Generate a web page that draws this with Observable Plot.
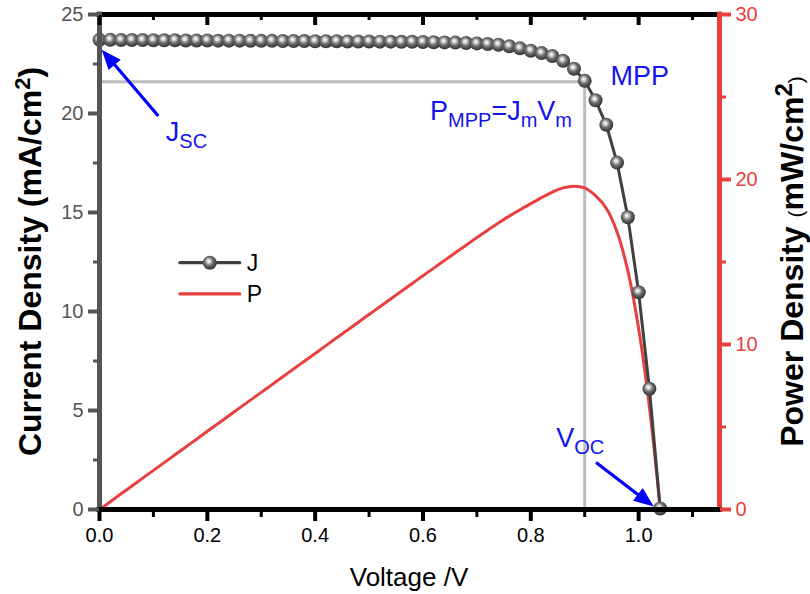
<!DOCTYPE html>
<html><head><meta charset="utf-8">
<script src="https://cdn.jsdelivr.net/npm/d3@7"></script>
<script src="https://cdn.jsdelivr.net/npm/@observablehq/plot@0.6"></script>
<style>body{margin:0;background:#fff}</style>
</head><body><div id="chart"></div>
<script>
// ---- data ----
const voltage = [0.00,0.02,0.04,0.06,0.08,0.10,0.12,0.14,0.16,0.18,0.20,0.22,0.24,0.26,0.28,0.30,0.32,0.34,0.36,0.38,0.40,0.42,0.44,0.46,0.48,0.50,0.52,0.54,0.56,0.58,0.60,0.62,0.64,0.66,0.68,0.70,0.72,0.74,0.76,0.78,0.80,0.82,0.84,0.86,0.88,0.90,0.92,0.94,0.96,0.98,1.00,1.02,1.04];
const currentDensity = [23.72,23.72,23.71,23.71,23.71,23.70,23.70,23.70,23.69,23.69,23.69,23.68,23.68,23.68,23.67,23.67,23.67,23.66,23.66,23.66,23.65,23.65,23.65,23.64,23.64,23.64,23.63,23.63,23.62,23.62,23.61,23.60,23.59,23.58,23.56,23.54,23.51,23.47,23.40,23.29,23.17,23.05,22.90,22.66,22.26,21.65,20.67,19.43,17.52,14.76,10.97,6.10,0.05];
const powerDensity = [0,0.47,0.95,1.42,1.90,2.37,2.84,3.32,3.79,4.26,4.74,5.21,5.68,6.16,6.63,7.10,7.57,8.04,8.52,8.99,9.46,9.93,10.41,10.87,11.35,11.82,12.29,12.76,13.23,13.70,14.17,14.63,15.10,15.56,16.02,16.48,16.93,17.37,17.78,18.17,18.54,18.90,19.24,19.49,19.59,19.49,19.02,18.26,16.82,14.46,10.97,6.22,0.05];
const xTicks = [0,0.2,0.4,0.6,0.8,1.0];
const xMinor = [0.1,0.3,0.5,0.7,0.9,1.1];
const jTicks = [0,5,10,15,20,25];
const jMinor = [2.5,7.5,12.5,17.5,22.5];
const pTicks = [0,10,20,30];
const pMinor = [5,15,25];
const xDomain = [0,1.15];
const jDomain = [0,25];
const pDomain = [0,30];
const mpp = {V:0.9, J:21.6};
const jscArrow = {x1:0.11, y1:19.85, x2:0.005, y2:23.2};
const vocArrow = {x1:0.922, y1:2.35, x2:1.029, y2:0.12};
const labelJsc = {x:0.124, y:18.59};
const labelMpp = {x:0.9486, y:21.41};
const labelPmpp = {x:0.614, y:19.65};
const labelVoc = {x:0.848, y:3.13};
const legendItems = [{name:"J", x1:0.15, x2:0.261, y:12.44}, {name:"P", x1:0.15, x2:0.261, y:10.86}];

const pToJ = jDomain[1] / pDomain[1];
const data = voltage.map((v,i) => ({V:v, J:currentDensity[i], P:powerDensity[i]}));

const RED = "#e8403f", GRAY = "#555555", DARK = "#404040", BLUE = "#1414ee";
const FONT = "'Liberation Sans', Arial, sans-serif";
const NS = "http://www.w3.org/2000/svg";
function el(tag, attrs, parent) {
  const e = document.createElementNS(NS, tag);
  for (const k in attrs) e.setAttribute(k, attrs[k]);
  if (parent) parent.appendChild(e);
  return e;
}
function rich(parent, attrs, parts) {
  const t = el("text", attrs, parent);
  for (const p of parts) { const s = el("tspan", p.a || {}, t); s.textContent = p.t; }
  return t;
}
function arrow(g, x1, y1, x2, y2, color, hl, hw) {
  const dx = x2-x1, dy = y2-y1, L = Math.hypot(dx,dy), ux = dx/L, uy = dy/L;
  const bx = x2-ux*hl, by = y2-uy*hl;
  el("line", {x1, y1, x2: bx+ux*2, y2: by+uy*2, stroke: color, "stroke-width": 3.2}, g);
  el("polygon", {points: `${x2},${y2} ${bx-uy*hw},${by+ux*hw} ${bx+uy*hw},${by-ux*hw}`, fill: color}, g);
}

const defs = () => {
  const d = el("defs", {});
  const rg = el("radialGradient", {id: "ball", cx: "0.45", cy: "0.42", r: "0.55", fx: "0.42", fy: "0.38"}, d);
  [["0%","#ffffff"],["22%","#d8d8d8"],["55%","#707070"],["100%","#353535"]].forEach(([o,c]) => el("stop", {offset: o, "stop-color": c}, rg));
  return d;
};

const annotations = (index, scales, values, dim) => {
  const x = scales.x, y = scales.y;
  const g = el("g", {"font-family": FONT, "text-anchor": "start"});
  // arrows
  arrow(g, x(jscArrow.x1), y(jscArrow.y1), x(jscArrow.x2), y(jscArrow.y2), "#0000ff", 20, 8);
  arrow(g, x(vocArrow.x1), y(vocArrow.y1), x(vocArrow.x2), y(vocArrow.y2), "#0000ff", 20, 8);
  const big = 27, sub = 20, sh = 7;
  rich(g, {x: x(labelJsc.x), y: y(labelJsc.y), fill: BLUE, "font-size": big}, [
    {t: "J"}, {t: "SC", a: {dy: sh, "font-size": sub}}]);
  rich(g, {x: x(labelMpp.x), y: y(labelMpp.y), fill: BLUE, "font-size": big}, [{t: "MPP"}]);
  rich(g, {x: x(labelPmpp.x), y: y(labelPmpp.y), fill: BLUE, "font-size": big}, [
    {t: "P"}, {t: "MPP", a: {dy: sh, "font-size": sub}}, {t: "=J", a: {dy: -sh}},
    {t: "m", a: {dy: sh, "font-size": sub}}, {t: "V", a: {dy: -sh}}, {t: "m", a: {dy: sh, "font-size": sub}}]);
  rich(g, {x: x(labelVoc.x), y: y(labelVoc.y), fill: BLUE, "font-size": big}, [
    {t: "V"}, {t: "OC", a: {dy: sh, "font-size": sub}}]);
  // legend
  legendItems.forEach((it, i) => {
    const yy = y(it.y), xa = x(it.x1), xb = x(it.x2);
    el("line", {x1: xa, x2: xb, y1: yy, y2: yy, stroke: i === 0 ? DARK : RED, "stroke-width": 3.2, "stroke-linecap": "round"}, g);
    if (i === 0) el("circle", {cx: (xa+xb)/2, cy: yy, r: 7, fill: "url(#ball)"}, g);
    rich(g, {x: xb + 7, y: yy + 8.5, fill: "#000", "font-size": 23}, [{t: it.name}]);
  });
  // axis titles
  const L = dim.marginLeft, R = dim.width - dim.marginRight, T = dim.marginTop, B = dim.height - dim.marginBottom;
  const cy = (T + B) / 2;
  rich(g, {transform: `translate(${L - 58},${cy}) rotate(-90)`, "text-anchor": "middle", "font-size": 32, "font-weight": "bold", fill: "#000"}, [
    {t: "Current Density (mA/cm"}, {t: "2", a: {dy: -11, "font-size": 22}}, {t: ")", a: {dy: 11}}]);
  rich(g, {transform: `translate(${R + 84},${cy}) rotate(-90)`, "text-anchor": "middle", "font-size": 32, "font-weight": "bold", fill: "#000"}, [
    {t: "Power Density "}, {t: "(", a: {"font-size": 21, "font-weight": "normal"}}, {t: "mW/cm"},
    {t: "2", a: {dy: -11, "font-size": 24}}, {t: ")", a: {dy: 11, "font-size": 21, "font-weight": "normal"}}]);
  rich(g, {x: (L + R) / 2, y: B + 77, "text-anchor": "middle", "font-size": 26, fill: "#000"}, [{t: "Voltage /V"}]);
  return g;
};

const tickOpts = {fontSize: 20, strokeWidth: 4, label: null};
const chart = Plot.plot({
  width: 810, height: 594,
  marginTop: 14, marginRight: 91, marginBottom: 85, marginLeft: 99,
  style: {fontFamily: FONT, background: "#fff", overflow: "visible"},
  x: {domain: xDomain},
  y: {domain: jDomain},
  marks: [
    defs,
    Plot.ruleY([mpp.J], {x1: 0, x2: mpp.V, stroke: "#bdbdbd", strokeWidth: 3}),
    Plot.ruleX([mpp.V], {y1: 0, y2: mpp.J, stroke: "#bdbdbd", strokeWidth: 3}),
    Plot.line(data, {x: "V", y: d => d.P * pToJ, stroke: RED, strokeWidth: 3, curve: "catmull-rom"}),
    Plot.line(data, {x: "V", y: "J", stroke: DARK, strokeWidth: 3}),
    Plot.dot(data, {x: "V", y: "J", r: 7, fill: "url(#ball)"}),
    // axis lines
    Plot.ruleY([jDomain[1]], {stroke: "#000", strokeWidth: 5, strokeLinecap: "square"}),
    Plot.ruleX([xDomain[1]], {stroke: RED, strokeWidth: 5, strokeLinecap: "square"}),
    Plot.ruleX([xDomain[0]], {stroke: GRAY, strokeWidth: 5, strokeLinecap: "square"}),
    Plot.ruleY([jDomain[0]], {stroke: "#000", strokeWidth: 5, strokeLinecap: "square"}),
    // ticks
    Plot.axisX({...tickOpts, anchor: "bottom", ticks: xTicks, tickSize: 12, tickPadding: 6, tickFormat: d3.format(".1f"), stroke: "#000", fill: "#000"}),
    Plot.axisX({...tickOpts, anchor: "bottom", ticks: xMinor, tickSize: 8, strokeWidth: 3, tickFormat: () => "", stroke: "#000"}),
    Plot.axisX({...tickOpts, anchor: "top", ticks: xTicks, tickSize: 10, dy: 10, tickFormat: () => "", stroke: "#000"}),
    Plot.axisX({...tickOpts, anchor: "top", ticks: xMinor, tickSize: 5, dy: 5, strokeWidth: 3, tickFormat: () => "", stroke: "#000"}),
    Plot.axisY({...tickOpts, anchor: "left", ticks: jTicks, tickSize: 11, tickPadding: 5, stroke: GRAY, fill: GRAY}),
    Plot.axisY({...tickOpts, anchor: "left", ticks: jMinor, tickSize: 6, strokeWidth: 3, tickFormat: () => "", stroke: GRAY}),
    Plot.axisY({...tickOpts, anchor: "right", ticks: pTicks.map(p => p * pToJ), tickFormat: d => Math.round(d / pToJ), tickSize: 11, tickPadding: 5, stroke: RED, fill: RED}),
    Plot.axisY({...tickOpts, anchor: "right", ticks: pMinor.map(p => p * pToJ), tickSize: 6, strokeWidth: 3, tickFormat: () => "", stroke: RED}),
    annotations
  ]
});
document.getElementById("chart").appendChild(chart);
</script></body></html>
